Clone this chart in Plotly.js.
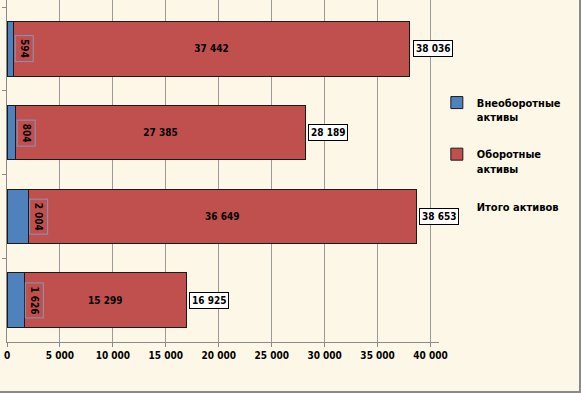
<!DOCTYPE html>
<html>
<head>
<meta charset="utf-8">
<script src="https://cdn.plot.ly/plotly-3.0.1.min.js"></script>
<style>
html,body{margin:0;padding:0;background:#fcf7e6;}
#chart{width:579px;height:391px;border-right:2px solid #8a8a8a;border-bottom:2px solid #8a8a8a;}
</style>
</head>
<body>
<div id="chart"></div>
<script>
const categories = ["Период 1", "Период 2", "Период 3", "Период 4"];
const nonCurrent = [594, 804, 2004, 1626];
const current = [37442, 27385, 36649, 15299];
const totals = [38036, 28189, 38653, 16925];
const tickValues = [0, 5000, 10000, 15000, 20000, 25000, 30000, 35000, 40000];
const tickLabels = ["0", "5 000", "10 000", "15 000", "20 000", "25 000", "30 000", "35 000", "40 000"];
const seriesNames = ["Внеоборотные<br>активы", "Оборотные<br>активы", "Итого активов"];

function fmt(v) { return String(v).replace(/\B(?=(\d{3})+(?!\d))/g, " "); }

const FONT = "DejaVu Sans Condensed, DejaVu Sans, sans-serif";

const traces = [
  {
    type: "bar", orientation: "h", name: seriesNames[0],
    y: categories, x: nonCurrent,
    marker: {color: "#4f81bd", line: {color: "#1a1a1a", width: 1}},
    legendgroup: "a", hoverinfo: "x"
  },
  {
    type: "bar", orientation: "h", name: seriesNames[1],
    y: categories, x: current,
    text: current.map(fmt), textposition: "inside", insidetextanchor: "middle",
    textangle: 0, constraintext: "none",
    insidetextfont: {family: FONT, size: 10, color: "#000", weight: "bold"},
    marker: {color: "#c0504d", line: {color: "#1a1a1a", width: 1}},
    legendgroup: "b", hoverinfo: "x"
  },
  {
    type: "scatter", mode: "markers", name: seriesNames[2],
    y: categories, x: totals,
    marker: {color: "rgba(0,0,0,0)", size: 1},
    legendgroup: "c", hoverinfo: "x"
  }
];

const annotations = [];
categories.forEach((c, i) => {
  annotations.push({
    x: totals[i], y: i, xref: "x", yref: "y",
    text: fmt(totals[i]), showarrow: false,
    xanchor: "left", yanchor: "middle", xshift: 3,
    bgcolor: "#ffffff", bordercolor: "#000000", borderwidth: 1, borderpad: 2,
    font: {family: FONT, size: 10, color: "#000", weight: "bold"}
  });
  annotations.push({
    x: nonCurrent[i], y: i, xref: "x", yref: "y",
    text: fmt(nonCurrent[i]), showarrow: false, textangle: 90,
    xanchor: "left", yanchor: "middle", xshift: 1,
    bordercolor: "#8497bb", borderwidth: 1, borderpad: 3,
    font: {family: FONT, size: 10, color: "#000", weight: "bold"}
  });
});

const layout = {
  width: 579, height: 391,
  margin: {l: 7, r: 140, t: 0, b: 49},
  paper_bgcolor: "#fcf7e6", plot_bgcolor: "#fcf7e6",
  barmode: "stack", bargap: 0.35,
  showlegend: true,
  legend: {
    x: 0.995, y: 0.74, xanchor: "left", yanchor: "top",
    bgcolor: "rgba(0,0,0,0)", traceorder: "grouped", tracegroupgap: 20,
    valign: "top",
    font: {family: FONT, size: 11, color: "#000", weight: "bold"}
  },
  xaxis: {
    range: [0, 40800], tickvals: tickValues, ticktext: tickLabels,
    showgrid: true, gridcolor: "#9a9a9a", gridwidth: 1,
    zeroline: false, showline: true, linecolor: "#8a8a8a", linewidth: 1,
    ticks: "outside", ticklen: 4, tickcolor: "#8a8a8a",
    tickfont: {family: FONT, size: 10, color: "#000", weight: "bold"},
    fixedrange: true
  },
  yaxis: {
    type: "category", range: [3.5, -0.584],
    showticklabels: false, tickson: "boundaries",
    ticks: "outside", ticklen: 4, tickcolor: "#8a8a8a",
    showgrid: false, zeroline: false,
    showline: true, linecolor: "#8a8a8a", linewidth: 1,
    fixedrange: true
  },
  annotations: annotations
};

Plotly.newPlot("chart", traces, layout, {displayModeBar: false, staticPlot: true});
</script>
</body>
</html>
